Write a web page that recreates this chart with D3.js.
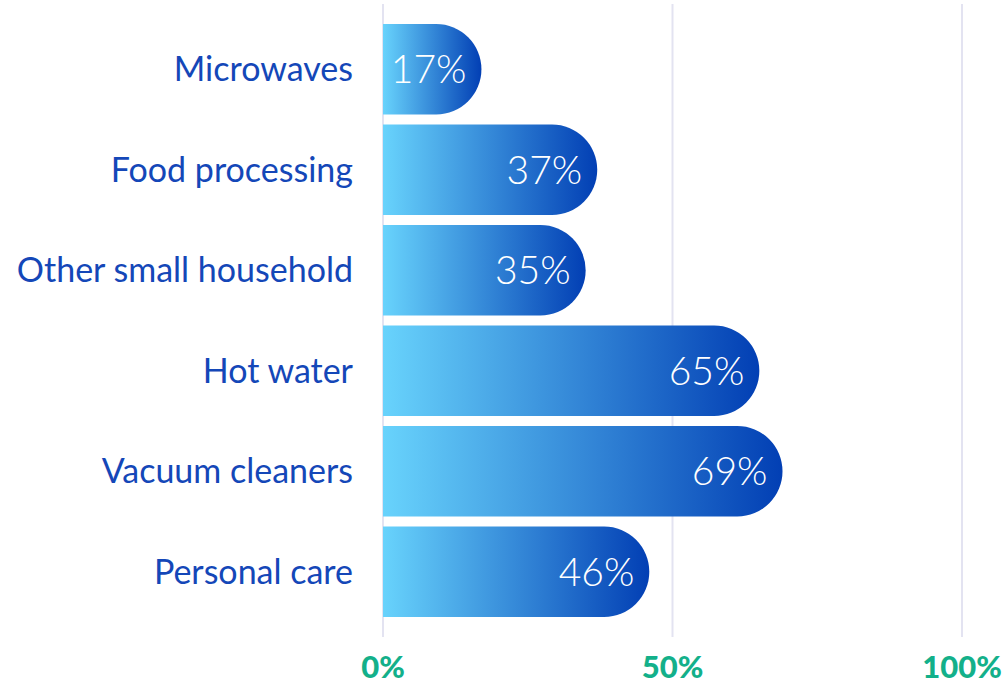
<!DOCTYPE html>
<html>
<head>
<meta charset="utf-8">
<script src="https://cdn.jsdelivr.net/npm/d3@7"></script>
<style>
  body { margin: 0; background: #fff; }
  svg { display: block; }
</style>
</head>
<body>
<div id="chart"></div>
<script>
const categories = ["Microwaves", "Food processing", "Other small household", "Hot water", "Vacuum cleaners", "Personal care"];
const values = [17, 37, 35, 65, 69, 46];
const tickValues = [0, 50, 100];

const W = 1006, H = 682;

const svg = d3.select("#chart").append("svg")
    .attr("width", W)
    .attr("height", H);

const x = d3.scaleLinear().domain([0, 100]).range([383, 962]);
const y = d3.scaleBand().domain(categories).range([19, 622]).paddingInner(0.1).paddingOuter(0.05);

const grad = svg.append("defs").append("linearGradient")
    .attr("id", "barGrad")
    .attr("x1", "0%").attr("x2", "100%")
    .attr("y1", "0%").attr("y2", "0%");
grad.append("stop").attr("offset", "0%").attr("stop-color", "#68d3fc");
grad.append("stop").attr("offset", "100%").attr("stop-color", "#023fb4");

// gridlines
svg.selectAll(".grid").data(tickValues).enter()
    .append("line")
    .attr("class", "grid")
    .attr("x1", d => x(d)).attr("x2", d => x(d))
    .attr("y1", 4).attr("y2", 637)
    .attr("stroke", "#e3e3f1")
    .attr("stroke-width", 2);

// axis labels
svg.selectAll(".tick-label").data(tickValues).enter()
    .append("text")
    .attr("class", "tick-label")
    .attr("x", d => x(d))
    .attr("y", 678)
    .attr("text-anchor", "middle")
    .attr("fill", "#13b08a")
    .style("font-family", "Lato, 'Open Sans', sans-serif")
    .style("font-weight", 900)
    .style("font-size", "31px")
    .text(d => d + "%");

function barPath(v, cat) {
    const x0 = x(0), x1 = x(v);
    const t = y(cat), h = y.bandwidth(), r = h / 2;
    const xs = Math.max(x0, x1 - r);
    return "M" + x0 + "," + t +
        "H" + xs +
        "A" + r + "," + r + " 0 0 1 " + xs + "," + (t + h) +
        "H" + x0 + "Z";
}

const rows = categories.map((c, i) => ({cat: c, val: values[i]}));

svg.selectAll(".bar").data(rows).enter()
    .append("path")
    .attr("class", "bar")
    .attr("d", d => barPath(d.val, d.cat))
    .attr("fill", "url(#barGrad)");

svg.selectAll(".val").data(rows).enter()
    .append("text")
    .attr("class", "val")
    .attr("x", d => x(d.val) - 15)
    .attr("y", d => y(d.cat) + y.bandwidth() / 2)
    .attr("dy", "0.36em")
    .attr("text-anchor", "end")
    .attr("fill", "#fff")
    .style("font-family", "Lato, sans-serif")
    .style("font-weight", 300)
    .style("font-size", "39px")
    .text(d => d.val + "%");

svg.selectAll(".cat").data(rows).enter()
    .append("text")
    .attr("class", "cat")
    .attr("x", 353)
    .attr("y", d => y(d.cat) + y.bandwidth() / 2)
    .attr("dy", "0.36em")
    .attr("text-anchor", "end")
    .attr("fill", "#1447b8")
    .style("font-family", "Lato, sans-serif")
    .style("font-weight", 400)
    .style("font-size", "34px")
    .text(d => d.cat);
</script>
</body>
</html>
